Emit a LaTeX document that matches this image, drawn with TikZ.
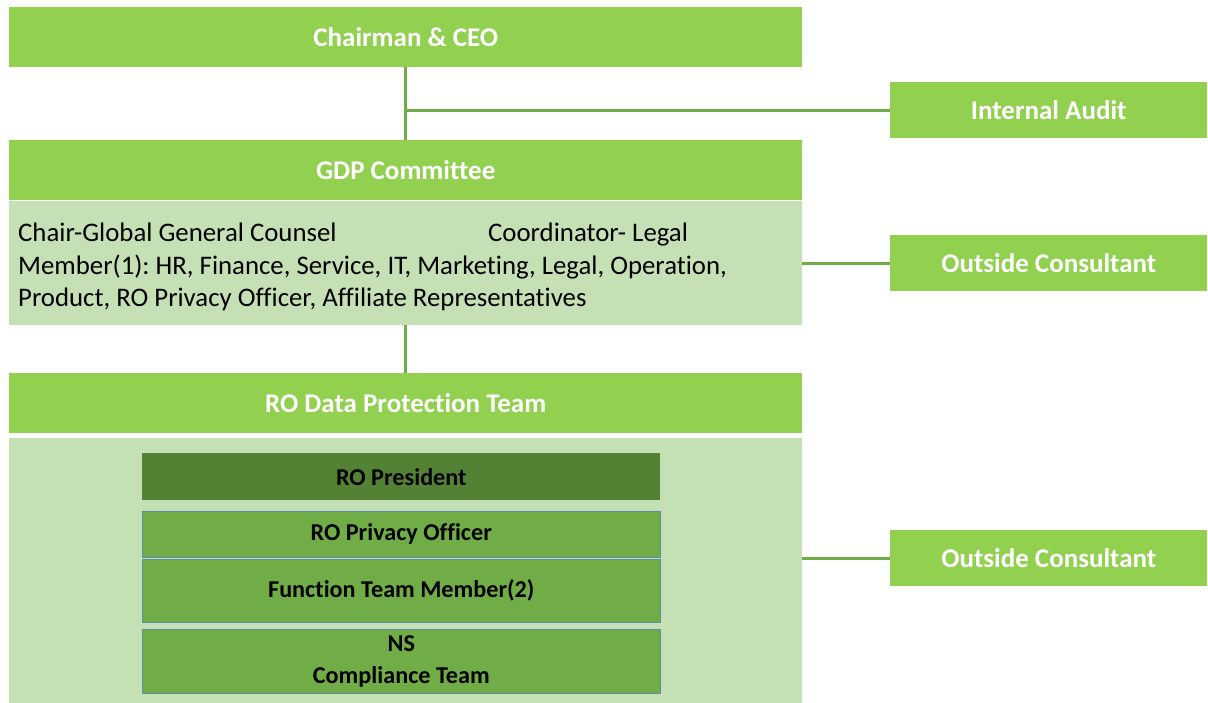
\documentclass[tikz,border=0pt]{standalone}
\usepackage{fontspec}
\setmainfont{Carlito}[RawFeature={-liga;-clig;-dlig}]
\frenchspacing
\definecolor{hdr}{HTML}{92D050}
\definecolor{lite}{HTML}{C5E0B4}
\definecolor{dark}{HTML}{548235}
\definecolor{mid}{HTML}{70AD47}
\definecolor{lnk}{HTML}{70AD47}
\definecolor{edge}{HTML}{5B8DA8}
\tikzset{
  hdrbox/.style={fill=hdr, draw=none, anchor=north west, inner sep=0pt, text=white,
    font=\fontsize{27}{32}\selectfont\bfseries, align=center},
  sidebox/.style={hdrbox, minimum width=317pt, minimum height=56pt},
  mainhdr/.style={hdrbox, minimum width=793pt, minimum height=60pt},
  innerbox/.style={fill=mid, draw=edge, line width=0.6pt, anchor=north west, inner sep=0pt,
    minimum width=518pt, text=black, font=\fontsize{24.2}{30}\selectfont\bfseries, align=center},
  link/.style={draw=lnk, line width=3pt}
}
\begin{document}
\begin{tikzpicture}[x=1pt,y=-1pt]
\useasboundingbox (0,0) rectangle (1208,703);
\fill[white] (0,0) rectangle (1208,703);
% main column
\node[mainhdr] (ceo) at (9,7) {Chairman \& CEO};
\node[mainhdr] (gdp) at (9,140) {GDP Committee};
\node[fill=lite, anchor=north west, inner sep=0pt, minimum width=793pt, minimum height=124pt] (gdpbody) at (9,201) {};
\node[anchor=north west, inner sep=0pt, text width=780pt, align=flush left,
  font=\fontsize{26.8}{32.5}\selectfont] (gdptext) at (18,223)
  {\makebox[470pt][l]{Chair-Global General Counsel}Coordinator- Legal\\
   Member(1): HR, Finance, Service, IT, Marketing, Legal, Operation,\\
   Product, RO Privacy Officer, Affiliate Representatives};
\node[mainhdr] (ro) at (9,373) {RO Data Protection Team};
\node[fill=lite, anchor=north west, inner sep=0pt, minimum width=793pt, minimum height=265pt] (robody) at (9,438) {};
% inner boxes
\node[innerbox, draw=none, fill=dark, minimum height=47pt] (pres) at (142,453) {RO President};
\node[innerbox, minimum height=46pt] (priv) at (142,511) {RO Privacy Officer};
\node[innerbox, minimum height=63pt] (func) at (142,559) {Function Team Member(2)};
\node[innerbox, minimum height=64pt, font=\fontsize{24.2}{32}\selectfont\bfseries] (ns) at (142,629) {NS\\Compliance Team};
% side boxes
\node[sidebox] (audit) at (890,82) {Internal Audit};
\node[sidebox] (oc1) at (890,235) {Outside Consultant};
\node[sidebox] (oc2) at (890,530) {Outside Consultant};
% connectors
\draw[link] (ceo.south) -- (gdp.north);
\draw[link] (audit.west) -- (audit.west -| ceo.south);
\draw[link] (oc1.west) -- (oc1.west -| gdpbody.east);
\draw[link] (gdpbody.south) -- (ro.north);
\draw[link] (oc2.west) -- (oc2.west -| robody.east);
\end{tikzpicture}
\end{document}
